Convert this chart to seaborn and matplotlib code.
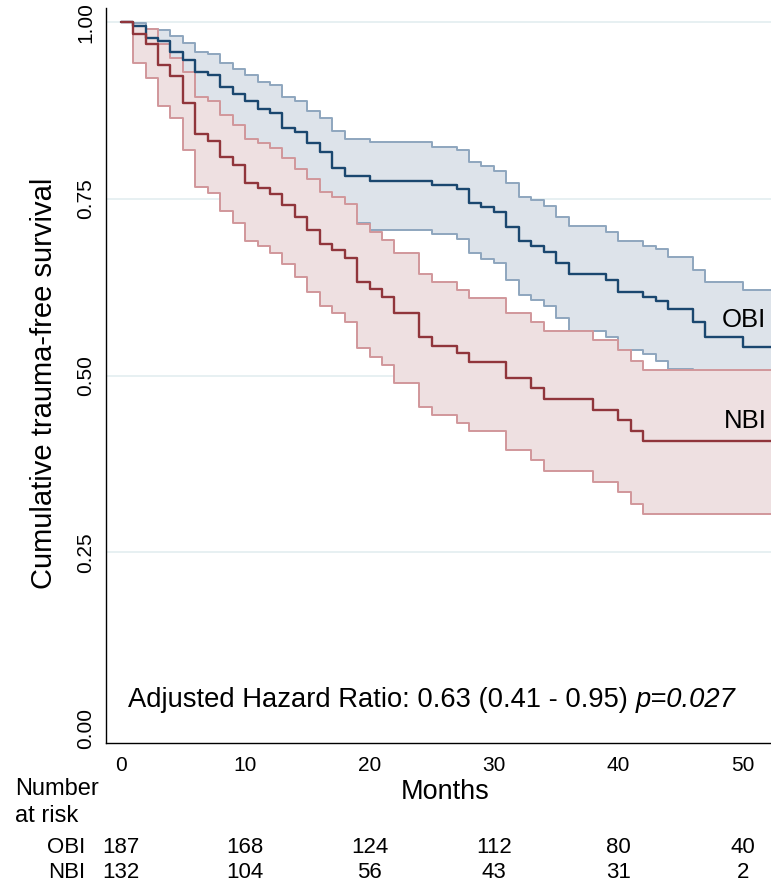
import numpy as np
import pandas as pd
import matplotlib
matplotlib.use("Agg")
import matplotlib.pyplot as plt
import matplotlib.transforms as mtransforms
import seaborn as sns

# Kaplan-Meier estimates:
# month at which each step starts, and the value from that month on
obi_t = [0, 1, 2, 3, 4, 5, 6, 7, 8, 9, 10, 11, 12, 13, 14, 15, 16, 17, 18, 20,
         25, 27, 28, 29, 30, 31, 32, 33, 34, 35, 36, 39, 40, 42, 43, 44, 46, 47, 50]
obi_surv = [1.000, 0.995, 0.978, 0.973, 0.958, 0.947, 0.930, 0.925, 0.908, 0.899,
            0.888, 0.877, 0.872, 0.850, 0.845, 0.829, 0.817, 0.794, 0.783, 0.776,
            0.770, 0.764, 0.744, 0.738, 0.731, 0.711, 0.690, 0.683, 0.675, 0.659,
            0.644, 0.635, 0.619, 0.612, 0.605, 0.595, 0.576, 0.555, 0.541]
obi_upper = [1.000, 0.999, 0.991, 0.989, 0.980, 0.971, 0.958, 0.955, 0.943, 0.934,
             0.925, 0.916, 0.912, 0.894, 0.889, 0.875, 0.865, 0.846, 0.835, 0.830,
             0.824, 0.819, 0.803, 0.797, 0.790, 0.772, 0.753, 0.749, 0.740, 0.725,
             0.712, 0.704, 0.690, 0.683, 0.679, 0.668, 0.650, 0.633, 0.621]
obi_lower = [1.000, 0.965, 0.945, 0.938, 0.918, 0.905, 0.885, 0.879, 0.862, 0.851,
             0.831, 0.822, 0.816, 0.793, 0.787, 0.770, 0.755, 0.728, 0.716, 0.706,
             0.700, 0.693, 0.673, 0.665, 0.659, 0.635, 0.614, 0.607, 0.598, 0.581,
             0.563, 0.554, 0.536, 0.531, 0.521, 0.510, 0.492, 0.470, 0.455]

nbi_t = [0, 1, 2, 3, 4, 5, 6, 7, 8, 9, 10, 11, 12, 13, 14, 15, 16, 17, 18, 19,
         20, 21, 22, 24, 25, 27, 28, 31, 33, 34, 38, 40, 41, 42]
nbi_surv = [1.000, 0.984, 0.970, 0.940, 0.924, 0.886, 0.842, 0.832, 0.810, 0.798,
            0.772, 0.765, 0.757, 0.741, 0.725, 0.706, 0.687, 0.678, 0.666, 0.633,
            0.622, 0.611, 0.588, 0.554, 0.542, 0.532, 0.520, 0.496, 0.482, 0.467,
            0.452, 0.437, 0.422, 0.408]
nbi_upper = [1.000, 0.995, 0.990, 0.970, 0.949, 0.930, 0.895, 0.889, 0.869, 0.855,
             0.835, 0.829, 0.822, 0.808, 0.793, 0.778, 0.760, 0.753, 0.743, 0.715,
             0.704, 0.692, 0.674, 0.644, 0.633, 0.621, 0.610, 0.588, 0.576, 0.563,
             0.550, 0.536, 0.521, 0.508]
nbi_lower = [1.000, 0.942, 0.921, 0.882, 0.865, 0.819, 0.767, 0.759, 0.733, 0.716,
             0.691, 0.683, 0.674, 0.658, 0.639, 0.619, 0.599, 0.588, 0.576, 0.539,
             0.527, 0.515, 0.490, 0.455, 0.444, 0.433, 0.421, 0.395, 0.381, 0.365,
             0.350, 0.336, 0.319, 0.304]

# number at risk table
risk_months = [0, 10, 20, 30, 40, 50]
obi_risk = [187, 168, 124, 112, 80, 40]
nbi_risk = [132, 104, 56, 43, 31, 2]

x_ticks = [0, 10, 20, 30, 40, 50]
y_ticks = [0.00, 0.25, 0.50, 0.75, 1.00]
y_ticklabels = ["0.00", "0.25", "0.50", "0.75", "1.00"]

hr_text = "Adjusted Hazard Ratio: 0.63 (0.41 - 0.95) "
p_text = "p=0.027"

# colours
OBI_LINE, OBI_CI, OBI_FILL = "#1a476f", "#8ea6be", "#dde3ea"
NBI_LINE, NBI_CI, NBI_FILL = "#90353b", "#d1979b", "#eee0e1"
GRID = "#e3edf0"

sns.set_style("white")
plt.rcParams["font.family"] = ["Liberation Sans", "DejaVu Sans"]
plt.rcParams["text.color"] = "black"
plt.rcParams["axes.labelcolor"] = "black"
plt.rcParams["xtick.color"] = "black"
plt.rcParams["ytick.color"] = "black"


def on_grid(times, values, grid):
    """Evaluate a right-continuous step function on a month grid."""
    idx = np.searchsorted(times, grid, side="right") - 1
    return np.asarray(values)[idx]


grid = np.arange(0, 54)
curves = pd.DataFrame({
    "month": np.concatenate([grid, grid]),
    "group": ["OBI"] * len(grid) + ["NBI"] * len(grid),
    "surv": np.concatenate([on_grid(obi_t, obi_surv, grid), on_grid(nbi_t, nbi_surv, grid)]),
    "upper": np.concatenate([on_grid(obi_t, obi_upper, grid), on_grid(nbi_t, nbi_upper, grid)]),
    "lower": np.concatenate([on_grid(obi_t, obi_lower, grid), on_grid(nbi_t, nbi_lower, grid)]),
})

W, H = 771, 884
fig = plt.figure(figsize=(W / 100, H / 100), dpi=100)
ax = fig.add_axes([106 / W, 1 - 743.3 / H, 1 - 106 / W, (743.3 - 8) / H])

# confidence bands: opaque, NBI drawn over OBI
styles = {"OBI": (OBI_CI, OBI_FILL, 1.0), "NBI": (NBI_CI, NBI_FILL, 1.2)}
for grp in ["OBI", "NBI"]:
    d = curves[curves["group"] == grp]
    ci_col, fill_col, z = styles[grp]
    ax.fill_between(d["month"], d["lower"], d["upper"], step="post",
                    color=fill_col, linewidth=0, zorder=z)
    for col in ["upper", "lower"]:
        sns.lineplot(data=d, x="month", y=col, ax=ax, color=ci_col,
                     drawstyle="steps-post", linewidth=1.4, zorder=z + 0.05,
                     estimator=None, legend=False)

sns.lineplot(data=curves, x="month", y="surv", hue="group", hue_order=["OBI", "NBI"],
             palette={"OBI": OBI_LINE, "NBI": NBI_LINE}, ax=ax,
             drawstyle="steps-post", linewidth=1.7, estimator=None, legend=False,
             zorder=3)

ax.set_xlim(-1.18, 52.27)
ax.set_ylim(-0.0203, 1.0203)
ax.set_xticks(x_ticks)
ax.set_yticks(y_ticks)
ax.set_yticklabels(y_ticklabels, rotation=90, va="center")
ax.tick_params(axis="both", direction="out", length=5, width=1.0,
               color="black", labelsize=15)
ax.tick_params(axis="x", pad=4)
ax.tick_params(axis="y", pad=2.5)
ax.set_axisbelow(True)
ax.grid(axis="y", color=GRID, linewidth=1.2)
ax.yaxis.get_gridlines()[0].set_visible(False)
ax.grid(axis="x", visible=False)
for side in ["top", "right"]:
    ax.spines[side].set_visible(False)
for side in ["left", "bottom"]:
    ax.spines[side].set_color("black")
    ax.spines[side].set_linewidth(1.0)

ax.set_xlabel("")
ax.set_ylabel("Cumulative trauma-free survival", fontsize=21)
ax.yaxis.set_label_coords(-0.072, 0.49)

# curve labels
ax.text(51.9, 0.569, "OBI", fontsize=18.5, ha="right", va="baseline")
ax.text(51.9, 0.4255, "NBI", fontsize=18.5, ha="right", va="baseline")

# hazard ratio annotation with italic p-value
t1 = fig.text(128 / W, 1 - 707 / H, hr_text, fontsize=19.7, ha="left", va="baseline")
fig.canvas.draw()
bb = t1.get_window_extent(fig.canvas.get_renderer())
fig.text(bb.x1 / fig.bbox.width, 1 - 707 / H, p_text, fontsize=19.7,
         style="italic", ha="left", va="baseline")

# x axis title and number-at-risk table
fig.text(445 / W, 1 - 799 / H, "Months", fontsize=19.5, ha="center", va="baseline")
fig.text(15 / W, 1 - 795 / H, "Number", fontsize=17, ha="left", va="baseline")
fig.text(15 / W, 1 - 822 / H, "at risk", fontsize=17, ha="left", va="baseline")

blend = mtransforms.blended_transform_factory(ax.transData, fig.transFigure)
for name, counts, base in [("OBI", obi_risk, 853), ("NBI", nbi_risk, 878)]:
    fig.text(85 / W, 1 - base / H, name, fontsize=16, ha="right", va="baseline")
    for m, n in zip(risk_months, counts):
        ax.text(m, 1 - base / H, str(n), transform=blend, fontsize=16,
                ha="center", va="baseline", clip_on=False)

fig.savefig("out.png", dpi=100)
